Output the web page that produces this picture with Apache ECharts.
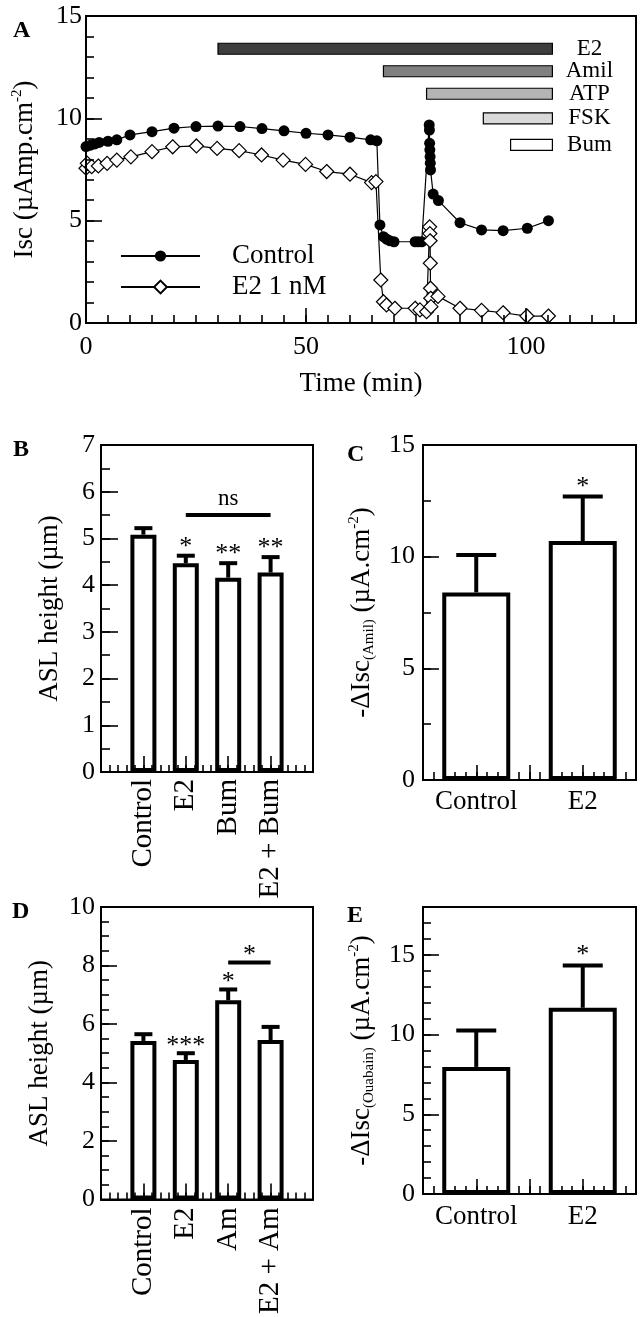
<!DOCTYPE html>
<html><head><meta charset="utf-8">
<script src="https://cdn.jsdelivr.net/npm/echarts@6/dist/echarts.min.js"></script>
<style>html,body{margin:0;padding:0;background:#fff}#c{width:644px;height:1317px}</style>
</head><body><div id="c"></div>
<script>
// ---------- Panel A data ----------
const timeControl = [0,1,2,3,5,7,10,15,20,25,30,35,40,45,50,55,60,64.7,66.1,66.8,67.6,68.3,69.0,70.0,74.8,75.5,76.3,78.0,78.05,78.1,78.15,78.2,78.25,78.3,78.9,80.1,85.0,89.9,94.8,100.3,105.1];
const iscControl  = [8.62,8.69,8.75,8.82,8.88,8.95,9.19,9.35,9.52,9.60,9.62,9.60,9.50,9.39,9.27,9.19,9.08,8.95,8.90,4.79,4.22,4.10,4.02,3.97,3.97,3.97,3.97,9.68,9.43,8.78,8.46,8.13,7.81,7.48,6.30,5.98,4.90,4.55,4.51,4.63,5.00];
const timeE2 = [0,0.3,1.3,2.8,4.8,7,10.2,15,19.7,25.1,29.8,34.8,39.9,44.8,49.9,54.7,60,64.9,65.9,67.0,67.6,68.3,70.2,74.8,75.9,77.4,78.1,78.15,78.2,78.25,78.3,78.35,78.4,80.0,85.0,89.9,94.8,100.2,105.1];
const iscE2  = [7.56,7.80,7.64,7.67,7.80,7.96,8.12,8.37,8.61,8.65,8.53,8.42,8.21,7.96,7.75,7.40,7.27,6.86,6.91,2.10,1.04,0.88,0.72,0.72,0.64,0.55,4.70,4.37,4.02,2.92,1.70,1.21,0.80,1.30,0.72,0.62,0.50,0.34,0.34];
const seriesNamesA = ['Control', 'E2 1 nM'];
const treatNames = ['E2','Amil','ATP','FSK','Bum'];
const treatStart = [30, 67.6, 77.4, 90.3, 96.5];
const treatEnd   = [106, 106, 106, 106, 106];
const treatLevel = [13.4, 12.3, 11.2, 10.0, 8.7];
const xTicksA = [0, 50, 100];
// ---------- Panel B ----------
const catB = ['Control','E2','Bum','E2 + Bum'];
const meanB = [5.08, 4.47, 4.16, 4.27];
const errB  = [0.14, 0.16, 0.31, 0.33];
const starsB = ['', '*', '**', '**'];
const sigB = [2, 4, 5.5];
const sigBLabel = 'ns';
// ---------- Panel C ----------
const catC = ['Control','E2'];
const meanC = [8.4, 10.7];
const errC  = [1.67, 1.99];
const starsC = ['', '*'];
// ---------- Panel D ----------
const catD = ['Control','E2','Am','E2 + Am'];
const meanD = [5.42, 4.77, 6.81, 5.45];
const errD  = [0.23, 0.23, 0.37, 0.45];
const starsD = ['', '***', '*', ''];
const sigD = [3, 4, 8.1];
const sigDLabel = '*';
// ---------- Panel E ----------
const catE = ['Control','E2'];
const meanE = [7.97, 11.68];
const errE  = [2.29, 2.65];
const starsE = ['', '*'];

// ---------- styles ----------
const FONT = '"Liberation Serif", "Times New Roman", serif';
const FS = 27;
const treatColors = ['#3e3e3e', '#808080', '#b4b4b4', '#d9d9d9', '#ffffff'];
const BLACK = '#000';
const TICKW = 1.6;
const AXIS_Z = 10;

function isInt(v) { return Math.abs(v - Math.round(v)) < 1e-6; }
function catFormatter(cats, offset) {
  return function (v) {
    if (!isInt(v)) return '';
    const i = Math.round(v) - offset;
    return (i >= 0 && i < cats.length) ? cats[i] : '';
  };
}
const richName = {
  t: {fontFamily: FONT, fontSize: FS, lineHeight: 30, verticalAlign: 'middle', color: BLACK},
  sup: {fontFamily: FONT, fontSize: 15, lineHeight: 16, verticalAlign: 'top', color: BLACK},
  sub: {fontFamily: FONT, fontSize: 15, lineHeight: 16, verticalAlign: 'bottom', color: BLACK}
};

function majorAxis(pos, gi, min, max, interval, tickLen, label, nameOpt) {
  return Object.assign({
    type: 'value', gridIndex: gi, position: pos, min: min, max: max, interval: interval, z: AXIS_Z,
    axisLine: {show: true, onZero: false, lineStyle: {color: BLACK, width: 2}},
    axisTick: {show: true, inside: true, length: tickLen, lineStyle: {color: BLACK, width: TICKW}},
    splitLine: {show: false},
    axisLabel: Object.assign({color: BLACK, fontFamily: FONT, fontSize: 26, margin: 6}, label)
  }, nameOpt || {});
}
function minorAxis(pos, gi, min, max, interval, tickLen) {
  return {
    type: 'value', gridIndex: gi, position: pos, min: min, max: max, interval: interval, z: AXIS_Z,
    axisLine: {show: false, onZero: false},
    axisTick: {show: true, inside: true, length: tickLen, lineStyle: {color: BLACK, width: TICKW}},
    splitLine: {show: false},
    axisLabel: {show: false}
  };
}
function yName(text, gap) {
  return {name: text, nameLocation: 'middle', nameGap: gap,
    nameTextStyle: {color: BLACK, fontFamily: FONT, fontSize: FS, rich: richName}};
}

const grids = [
  {left: 86, top: 16, width: 550, height: 307},
  {left: 101, top: 445, width: 212, height: 327},
  {left: 423, top: 445, width: 213, height: 335},
  {left: 101, top: 907, width: 212, height: 295},
  {left: 423, top: 907, width: 213, height: 287}
].map(g => Object.assign({show: true, borderColor: BLACK, borderWidth: 2}, g));

const xAxes = [
  // A
  majorAxis('bottom', 0, 0, 125, 50, 15,
    {margin: 11, formatter: v => xTicksA.indexOf(v) >= 0 ? String(v) : ''},
    {name: 'Time (min)', nameLocation: 'middle', nameGap: 47,
     nameTextStyle: {color: BLACK, fontFamily: FONT, fontSize: FS}}),
  minorAxis('bottom', 0, 0, 125, 5, 8),
  // B
  majorAxis('bottom', 1, 0, 5, 1, 16, {margin: 7, rotate: 90, fontSize: 29, formatter: catFormatter(catB, 1)}),
  minorAxis('bottom', 1, 0, 5, 0.2, 7),
  // C
  majorAxis('bottom', 2, 0.5, 2.5, 0.5, 15, {margin: 8, fontSize: FS, formatter: catFormatter(catC, 1)}),
  minorAxis('bottom', 2, 0.5, 2.5, 0.1, 8),
  // D
  majorAxis('bottom', 3, 0, 5, 1, 16, {margin: 8, rotate: 90, fontSize: 29, formatter: catFormatter(catD, 1)}),
  minorAxis('bottom', 3, 0, 5, 0.2, 7),
  // E
  majorAxis('bottom', 4, 0.5, 2.5, 0.5, 15, {margin: 9, fontSize: FS, formatter: catFormatter(catE, 1)}),
  minorAxis('bottom', 4, 0.5, 2.5, 0.1, 8)
];

const yAxes = [
  majorAxis('left', 0, 0, 15, 5, 16, {margin: 4}, yName('{t|Isc (µAmp.cm}{sup|-2}{t|)}', 46)),
  minorAxis('left', 0, 0, 15, 1, 8),
  majorAxis('left', 1, 0, 7, 1, 17, {}, yName('ASL height (µm)', 38)),
  minorAxis('left', 1, 0, 7, 0.5, 9),
  majorAxis('left', 2, 0, 15, 5, 16, {margin: 8}, yName('{t|-ΔIsc}{sub|(Amil)}{t| (µA.cm}{sup|-2}{t|)}', 46)),
  minorAxis('left', 2, 0, 15, 2.5, 8),
  majorAxis('left', 3, 0, 10, 2, 16, {}, yName('ASL height (µm)', 48)),
  minorAxis('left', 3, 0, 10, 0.5, 8),
  majorAxis('left', 4, 0, 18, 5, 16,
    {margin: 8, formatter: v => (isInt(v) && Math.round(v) % 5 === 0) ? String(v) : ''},
    yName('{t|-ΔIsc}{sub|(Ouabain)}{t| (µA.cm}{sup|-2}{t|)}', 46)),
  minorAxis('left', 4, 0, 18, 1, 8)
];

// ---------- helpers for series ----------
function barSeries(xi, yi, means, width) {
  return {type: 'bar', xAxisIndex: xi, yAxisIndex: yi, barWidth: width,
    data: means.map((m, i) => [i + 1, m]),
    itemStyle: {color: '#fff', borderColor: BLACK, borderWidth: 4}, z: 2};
}
function textEl(x, y, text, font) {
  return {type: 'text', x: x, y: y,
    style: {text: text, fill: BLACK, font: font, textAlign: 'center', textVerticalAlign: 'middle', align: 'center', verticalAlign: 'middle'}};
}
function errSeries(xi, yi, means, errs, stars, capHalf, starFont, starOffset) {
  return {type: 'custom', coordinateSystem: 'cartesian2d', xAxisIndex: xi, yAxisIndex: yi, z: 4,
    data: means.map((m, i) => [i + 1, m, errs[i]]),
    renderItem: function (params, api) {
      const i = params.dataIndex;
      const x = api.value(0);
      const p0 = api.coord([x, api.value(1)]);
      const p1 = api.coord([x, api.value(1) + api.value(2)]);
      const ch = [
        {type: 'line', shape: {x1: p0[0], y1: p0[1], x2: p1[0], y2: p1[1]}, style: {stroke: BLACK, lineWidth: 4}},
        {type: 'line', shape: {x1: p1[0] - capHalf, y1: p1[1], x2: p1[0] + capHalf, y2: p1[1]}, style: {stroke: BLACK, lineWidth: 4}}
      ];
      if (stars[i]) ch.push(textEl(p1[0], p1[1] - starOffset, stars[i], starFont));
      return {type: 'group', children: ch};
    }};
}
function sigSeries(xi, yi, sig, label, font, offset) {
  return {type: 'custom', coordinateSystem: 'cartesian2d', xAxisIndex: xi, yAxisIndex: yi, z: 4,
    data: [sig],
    renderItem: function (params, api) {
      const a = api.coord([api.value(0), api.value(2)]);
      const b = api.coord([api.value(1), api.value(2)]);
      return {type: 'group', children: [
        {type: 'line', shape: {x1: a[0], y1: a[1], x2: b[0], y2: b[1]}, style: {stroke: BLACK, lineWidth: 4}},
        textEl((a[0] + b[0]) / 2, a[1] - offset, label, font)
      ]};
    }};
}

const series = [
  {name: seriesNamesA[0], type: 'line', xAxisIndex: 0, yAxisIndex: 0,
    data: timeControl.map((t, i) => [t, iscControl[i]]),
    symbol: 'circle', symbolSize: 11, showSymbol: true,
    itemStyle: {color: BLACK}, lineStyle: {color: BLACK, width: 1.2}, z: 3},
  {name: seriesNamesA[1], type: 'line', xAxisIndex: 0, yAxisIndex: 0,
    data: timeE2.map((t, i) => [t, iscE2[i]]),
    symbol: 'diamond', symbolSize: 14, showSymbol: true,
    itemStyle: {color: '#fff', borderColor: BLACK, borderWidth: 1.2}, lineStyle: {color: BLACK, width: 1.2}, z: 4},
  {type: 'custom', coordinateSystem: 'cartesian2d', xAxisIndex: 0, yAxisIndex: 0, z: 2,
    data: treatStart.map((s, i) => [s, treatEnd[i], treatLevel[i]]),
    renderItem: function (params, api) {
      const i = params.dataIndex;
      const a = api.coord([api.value(0), api.value(2)]);
      const b = api.coord([api.value(1), api.value(2)]);
      return {type: 'group', children: [
        {type: 'rect', shape: {x: a[0], y: a[1] - 5.5, width: b[0] - a[0], height: 11},
          style: {fill: treatColors[i], stroke: BLACK, lineWidth: 1.2}},
        textEl(b[0] + 37, a[1], treatNames[i], '23px ' + FONT)
      ]};
    }},
  barSeries(2, 2, meanB, 26),
  errSeries(2, 2, meanB, errB, starsB, 9, '26px ' + FONT, 9),
  sigSeries(2, 2, sigB, sigBLabel, '23px ' + FONT, 16),
  barSeries(4, 4, meanC, 68),
  errSeries(4, 4, meanC, errC, starsC, 20, '26px ' + FONT, 9),
  barSeries(6, 6, meanD, 26),
  errSeries(6, 6, meanD, errD, starsD, 9, '26px ' + FONT, 7),
  sigSeries(6, 6, sigD, sigDLabel, '26px ' + FONT, 7),
  barSeries(8, 8, meanE, 68),
  errSeries(8, 8, meanE, errE, starsE, 20, '26px ' + FONT, 10)
];

const legendText = {color: BLACK, fontFamily: FONT, fontSize: FS, lineHeight: 28, padding: [0, 0, 0, 27]};
const legends = [
  {data: [seriesNamesA[0]], left: 120, top: 242, padding: 0, itemWidth: 79, itemHeight: 14, textStyle: legendText, selectedMode: false},
  {data: [seriesNamesA[1]], left: 120, top: 273, padding: 0, itemWidth: 79, itemHeight: 16, textStyle: legendText, selectedMode: false}
];

const letters = [['A', 13, 19], ['B', 13, 438], ['C', 347, 443], ['D', 12, 900], ['E', 347, 904]];
const graphic = letters.map(l => ({type: 'text', left: l[1], top: l[2],
  style: {text: l[0], font: 'bold 24px ' + FONT, fill: BLACK}}));

const chart = echarts.init(document.getElementById('c'), null, {renderer: 'canvas'});
chart.setOption({
  animation: false,
  backgroundColor: '#fff',
  grid: grids,
  xAxis: xAxes,
  yAxis: yAxes,
  legend: legends,
  graphic: graphic,
  series: series
});
</script></body></html>
